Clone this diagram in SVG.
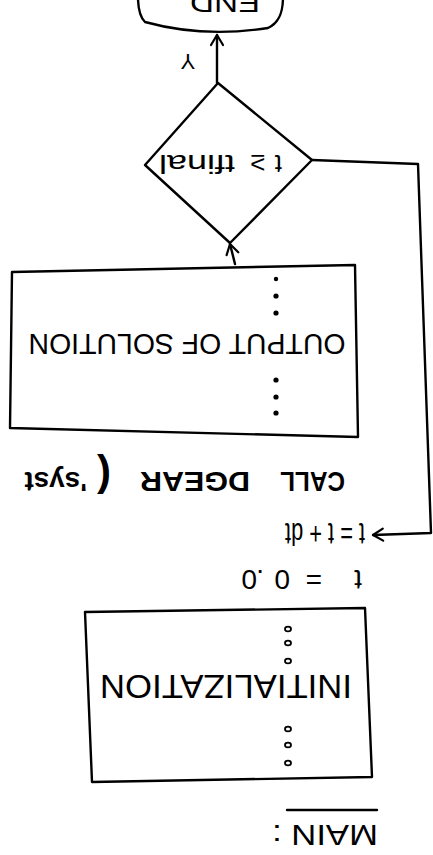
<svg xmlns="http://www.w3.org/2000/svg" width="433" height="855" viewBox="0 0 433 855">
  <style>
    .ln { fill: none; stroke: #000; stroke-width: 2.4; stroke-linecap: round; stroke-linejoin: round; }
    .box { fill: #fff; stroke: #000; stroke-width: 2.4; stroke-linejoin: round; }
    .t { font-family: "Liberation Sans", Arial, sans-serif; fill: #000; }
    .dot { fill: #000; }
    .odot { fill: #fff; stroke: #000; stroke-width: 1.8; }
  </style>
  <defs>
    <marker id="arr" markerUnits="userSpaceOnUse" markerWidth="16" markerHeight="16" refX="12" refY="8" orient="auto">
      <path d="M2,2 L12,8 L2,14" fill="none" stroke="#000" stroke-width="2.2" stroke-linecap="round" stroke-linejoin="round"/>
    </marker>
  </defs>
  <rect width="433" height="855" fill="#fff"/>
  <g transform="rotate(180 216.5 427.5)">
    <g id="main-label">
      <text class="t" x="55" y="30" font-size="30" textLength="106" lengthAdjust="spacingAndGlyphs">MAIN :</text>
      <path class="ln" d="M56 45 L146 45"/>
    </g>
    <g id="init">
      <polygon class="box" points="61,78 341,73 348,243 68,247"/>
      <text class="t" x="207" y="180" font-size="34" text-anchor="middle" textLength="252" lengthAdjust="spacingAndGlyphs">INITIALIZATION</text>
      <ellipse class="odot" cx="145" cy="92" rx="3" ry="2.4"/>
      <ellipse class="odot" cx="145" cy="110" rx="3" ry="2.4"/>
      <ellipse class="odot" cx="145" cy="126" rx="3" ry="2.4"/>
      <ellipse class="odot" cx="145" cy="194" rx="3" ry="2.4"/>
      <ellipse class="odot" cx="145" cy="212" rx="3" ry="2.4"/>
      <ellipse class="odot" cx="145" cy="226" rx="3" ry="2.4"/>
    </g>
    <g id="t0">
      <text class="t" x="71 111 143 169 176" y="285" font-size="28">t=0.0</text>
    </g>
    <g id="tstep">
      <text class="t" x="68" y="332" font-size="31" textLength="80" lengthAdjust="spacingAndGlyphs">t = t + dt</text>
    </g>
    <g id="call">
      <text class="t" x="88" y="383" font-size="27" font-weight="bold" textLength="65" lengthAdjust="spacingAndGlyphs">CALL</text>
      <text class="t" x="183" y="383" font-size="27" font-weight="bold" textLength="110" lengthAdjust="spacingAndGlyphs">DGEAR</text>
      <text class="t" x="322" y="392" font-size="42" font-weight="bold">(</text>
      <text class="t" x="346" y="383" font-size="28" font-weight="bold">'syst</text>
    </g>
    <g id="output">
      <polygon class="box" points="75,418 423,427 421,583 78,590"/>
      <text class="t" x="246" y="521" font-size="30" text-anchor="middle" textLength="317" lengthAdjust="spacingAndGlyphs">OUTPUT OF SOLUTION</text>
      <circle class="dot" cx="157" cy="442" r="2.6"/>
      <circle class="dot" cx="157" cy="458" r="2.6"/>
      <circle class="dot" cx="157" cy="475" r="2.6"/>
      <circle class="dot" cx="157" cy="542" r="2.6"/>
      <circle class="dot" cx="157" cy="559" r="2.6"/>
      <circle class="dot" cx="157" cy="576" r="2.2"/>
    </g>
    <g id="decision">
      <polygon class="box" points="203,612 288,690 215,772 121,695"/>
      <text class="t" y="700" font-size="26"><tspan x="151">t</tspan><tspan x="168">≥</tspan><tspan x="198" textLength="76" lengthAdjust="spacingAndGlyphs">tfinal</tspan></text>
    </g>
    <g id="end">
      <path class="ln" d="M150 858 C150 842 154 832 165 827 Q230 817 288 833 C293 838 295 846 295 858"/>
      <text class="t" x="208" y="862" font-size="28" text-anchor="middle" textLength="70" lengthAdjust="spacingAndGlyphs">END</text>
    </g>
    <g id="connectors">
      <path class="ln" d="M198 591 L203 611" marker-end="url(#arr)"/>
      <path class="ln" d="M216 772 L216 820" marker-end="url(#arr)"/>
      <text class="t" x="245" y="801" font-size="22" text-anchor="middle">Y</text>
      <path class="ln" d="M121 695 L15 691 L2 322 L60 320" marker-end="url(#arr)"/>
    </g>
  </g>
</svg>
